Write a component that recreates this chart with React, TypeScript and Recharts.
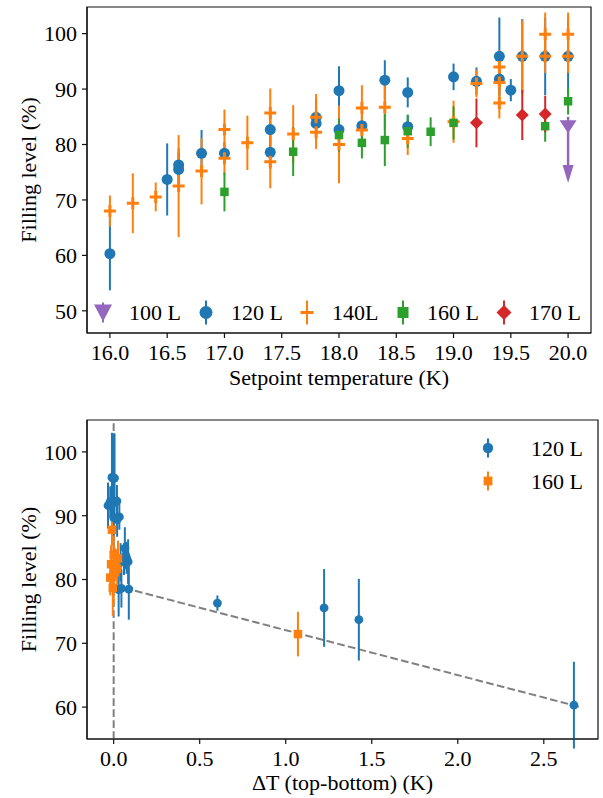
import React from 'react';
import { ScatterChart, Scatter, XAxis, YAxis, ErrorBar, ReferenceLine, ReferenceArea } from 'recharts';

const FONT = 'Liberation Serif';
const BLUE = '#1f77b4';
const ORANGE = '#ff7f0e';
const GREEN = '#2ca02c';
const RED = '#d62728';
const PURPLE = '#9467bd';
const GRAY = '#808080';

// ---------- Top chart: filling level vs setpoint temperature ----------
const tempTicks = [16.0, 16.5, 17.0, 17.5, 18.0, 18.5, 19.0, 19.5, 20.0];
const fillTicksTop = [50, 60, 70, 80, 90, 100];
const tempDomain = [15.8, 20.2];
const fillDomainTop = [46, 104.8];

const temp100 = [20.0];
const fill100 = [83.2];
const err100 = [[6.9, 1.8]];
const limit100 = [76.3];

const temp120 = [16.0, 16.5, 16.6, 16.6, 16.8, 17.0, 17.4, 17.4, 17.8, 17.8, 18.0, 18.0, 18.2, 18.4, 18.6, 18.6, 19.0, 19.2, 19.4, 19.4, 19.5, 19.6, 19.8, 20.0];
const fill120 = [60.3, 73.7, 76.3, 75.5, 78.4, 78.4, 82.7, 78.6, 84.9, 83.8, 89.7, 82.7, 83.4, 91.6, 89.4, 83.2, 92.2, 91.4, 95.9, 91.8, 89.8, 95.9, 95.9, 95.9];
const err120 = [6.6, 6.5, 3.0, 3.0, 4.2, 2.0, 3.0, 3.0, 3.3, 2.0, 4.4, 2.0, 2.0, 3.6, 2.7, 2.0, 2.4, 2.5, 7.0, 3.0, 2.0, 6.7, 7.0, 7.0];

const temp140 = [16.0, 16.2, 16.4, 16.6, 16.8, 17.0, 17.0, 17.2, 17.4, 17.4, 17.6, 17.8, 17.8, 18.0, 18.2, 18.2, 18.4, 18.6, 19.0, 19.2, 19.4, 19.4, 19.4, 19.6, 19.8, 19.8, 20.0, 20.0];
const fill140 = [68.0, 69.4, 70.55, 72.5, 75.2, 82.7, 77.5, 80.3, 85.7, 76.9, 81.9, 84.9, 82.2, 80.0, 86.6, 82.6, 86.7, 81.1, 84.1, 91.0, 94.0, 91.2, 87.5, 95.9, 99.9, 95.9, 99.9, 95.9];
const err140 = [2.8, 5.4, 2.6, 9.2, 6.0, 3.6, 3.0, 4.9, 4.4, 4.8, 5.2, 4.2, 3.0, 7.0, 4.1, 3.0, 4.0, 3.0, 3.8, 2.5, 3.0, 3.0, 2.8, 6.5, 3.9, 3.0, 3.9, 3.0];

const temp160 = [17.0, 17.6, 18.0, 18.2, 18.4, 18.6, 18.8, 19.0, 19.8, 20.0];
const fill160 = [71.45, 78.7, 81.7, 80.3, 80.8, 82.4, 82.3, 83.9, 83.3, 87.8];
const err160 = [3.5, 4.4, 3.0, 2.8, 4.7, 3.0, 2.6, 3.0, 2.8, 2.4];

const temp170 = [19.2, 19.6, 19.8];
const fill170 = [83.9, 85.3, 85.5];
const err170 = [4.4, 4.5, 3.3];

// ---------- Bottom chart: filling level vs temperature difference ----------
const dTTicks = [0.0, 0.5, 1.0, 1.5, 2.0, 2.5];
const fillTicksBottom = [60, 70, 80, 90, 100];
const dTDomain = [-0.155, 2.815];
const fillDomainBottom = [55, 105];

const dT120 = [2.675, 1.425, 0.603, 1.223, 0.029, 0.088, 0.045, 0.084, 0.075, 0.06, 0.07, 0.065, 0.04, 0.033, 0.0, 0.02, -0.033, -0.02, 0.019, -0.01, -0.01, -0.005, 0.0, 0.005];
const fillB120 = [60.3, 73.7, 76.3, 75.55, 78.4, 78.5, 78.6, 82.8, 83.4, 83.2, 83.8, 84.9, 82.7, 89.8, 89.7, 89.4, 91.6, 92.2, 92.3, 91.8, 96.0, 95.9, 95.9, 95.9];
const errB120 = [6.8, 6.4, 1.2, 6.1, 4.2, 4.8, 3.0, 3.5, 2.5, 2.5, 2.0, 3.3, 3.0, 2.0, 4.4, 2.7, 3.6, 2.4, 2.5, 3.0, 7.0, 6.7, 7.0, 7.0];

const dT160 = [1.071, -0.01, 0.0, 0.025, -0.015, 0.01, 0.02, 0.0, -0.02, -0.005];
const fillB160 = [71.45, 87.8, 83.9, 83.3, 82.4, 82.3, 81.7, 80.8, 80.3, 78.7];
const errB160 = [3.5, 2.4, 3.0, 2.8, 3.0, 2.6, 3.0, 4.7, 2.8, 4.4];

const fitX = [0.0, 2.72];
const fitY = [79.1, 59.95];

const zip = (xs: number[], ys: number[], es: any[]) => xs.map((x, i) => ({ x, y: ys[i], e: es[i] }));

// ---------- marker shapes ----------
const circleShape = (r: number, color: string) => (p: any) => <circle cx={p.cx} cy={p.cy} r={r} fill={color} />;
const plusShape = (h: number, w: number, color: string) => (p: any) => (
  <path d={`M${p.cx - h},${p.cy}H${p.cx + h}M${p.cx},${p.cy - h}V${p.cy + h}`} stroke={color} strokeWidth={w} fill="none" />
);
const squareShape = (s: number, color: string) => (p: any) => <rect x={p.cx - s / 2} y={p.cy - s / 2} width={s} height={s} fill={color} />;
const diamondShape = (d: number, color: string) => (p: any) => (
  <path d={`M${p.cx},${p.cy - d}L${p.cx + d},${p.cy}L${p.cx},${p.cy + d}L${p.cx - d},${p.cy}Z`} fill={color} />
);
const triDownShape = (w: number, h: number, color: string) => (p: any) => (
  <path d={`M${p.cx - w / 2},${p.cy - h / 2}L${p.cx + w / 2},${p.cy - h / 2}L${p.cx},${p.cy + h / 2}Z`} fill={color} />
);
const arrowHeadShape = (w: number, h: number, color: string) => (p: any) => (
  <path d={`M${p.cx - w / 2},${p.cy}L${p.cx + w / 2},${p.cy}L${p.cx},${p.cy + h}Z`} fill={color} />
);

const tickStyle = { fontSize: 22, fill: '#000', fontFamily: FONT };
const AXIS = '#111';

type IconKind = 'tri' | 'circle' | 'plus' | 'square' | 'diamond';
const LegendIcon = ({ kind, color, x, y, big }: { kind: IconKind; color: string; x: number; y: number; big: boolean }) => {
  const k = big ? 1 : 0.8;
  const bar = <line x1={x} x2={x} y1={y - 12 * k} y2={y + 12 * k} stroke={color} strokeWidth={2} />;
  if (kind === 'tri')
    return (
      <g>
        <line x1={x} x2={x} y1={y - 10} y2={y + 10} stroke={color} strokeWidth={2} />
        <path d={`M${x - 9},${y - 8}L${x + 9},${y - 8}L${x},${y + 9}Z`} fill={color} />
      </g>
    );
  if (kind === 'circle') return <g>{bar}<circle cx={x} cy={y} r={6.5 * k} fill={color} /></g>;
  if (kind === 'plus')
    return <g>{bar}<path d={`M${x - 6.5},${y}H${x + 6.5}`} stroke={color} strokeWidth={3} /></g>;
  if (kind === 'square') return <g>{bar}<rect x={x - 5.5 * k} y={y - 5.5 * k} width={11 * k} height={11 * k} fill={color} /></g>;
  return <g>{bar}<path d={`M${x},${y - 7.5}L${x + 7.5},${y}L${x},${y + 7.5}L${x - 7.5},${y}Z`} fill={color} /></g>;
};

const topLegend: { label: string; color: string; kind: IconKind }[] = [
  { label: '100 L', color: PURPLE, kind: 'tri' },
  { label: '120 L', color: BLUE, kind: 'circle' },
  { label: '140L', color: ORANGE, kind: 'plus' },
  { label: '160 L', color: GREEN, kind: 'square' },
  { label: '170 L', color: RED, kind: 'diamond' },
];
const bottomLegend: { label: string; color: string; kind: IconKind }[] = [
  { label: '120 L', color: BLUE, kind: 'circle' },
  { label: '160 L', color: ORANGE, kind: 'square' },
];

const TOP_ICON_X = [103, 206, 307, 403, 504];
const TOP_TEXT_X = [129, 231, 332, 427, 529];

export default function App() {
  const d100 = zip(temp100, fill100, err100);
  const l100 = temp100.map((x, i) => ({ x, y: limit100[i] }));
  const d120 = zip(temp120, fill120, err120);
  const d140 = zip(temp140, fill140, err140);
  const d160 = zip(temp160, fill160, err160);
  const d170 = zip(temp170, fill170, err170);
  const b120 = zip(dT120, fillB120, errB120);
  const b160 = zip(dT160, fillB160, errB160);
  const fitSeg = fitX.map((x, i) => ({ x, y: fitY[i] }));

  return (
    <div style={{ position: 'absolute', left: 0, top: 0, width: 603, height: 798, background: '#fff', fontFamily: FONT }}>
      <div style={{ position: 'absolute', left: 0, top: 0 }}>
        <ScatterChart width={603} height={400} margin={{ top: 7, right: 12, bottom: 0, left: 0 }}>
          <XAxis
            type="number"
            dataKey="x"
            domain={tempDomain}
            ticks={tempTicks}
            interval={0}
            allowDataOverflow
            height={67}
            tickSize={5}
            tickMargin={6}
            tick={tickStyle}
            tickFormatter={(v: number) => v.toFixed(1)}
            axisLine={{ stroke: AXIS, strokeWidth: 1.2 }}
            tickLine={{ stroke: AXIS, strokeWidth: 1.2 }}
            label={{ value: 'Setpoint temperature (K)', position: 'insideBottom', offset: 15, fontSize: 22, fill: '#000', fontFamily: FONT }}
          />
          <YAxis
            type="number"
            dataKey="y"
            domain={fillDomainTop}
            ticks={fillTicksTop}
            interval={0}
            allowDataOverflow
            width={87}
            tickSize={5}
            tickMargin={5}
            tick={tickStyle}
            axisLine={{ stroke: AXIS, strokeWidth: 1.2 }}
            tickLine={{ stroke: AXIS, strokeWidth: 1.2 }}
            label={{ value: 'Filling level (%)', angle: -90, position: 'insideLeft', offset: 28, fontSize: 22, fill: '#000', fontFamily: FONT, style: { textAnchor: 'middle' } }}
          />
          <ReferenceArea x1={tempDomain[0]} x2={tempDomain[1]} y1={fillDomainTop[0]} y2={fillDomainTop[1]} fill="none" stroke={AXIS} strokeWidth={1.2} ifOverflow="visible" />
          <Scatter data={d100} isAnimationActive={false} shape={triDownShape(17, 13, PURPLE)}>
            <ErrorBar dataKey="e" direction="y" width={0} stroke={PURPLE} strokeWidth={2.5} />
          </Scatter>
          <Scatter data={l100} isAnimationActive={false} shape={arrowHeadShape(11, 18, PURPLE)} />
          <Scatter data={d120} isAnimationActive={false} shape={circleShape(5.5, BLUE)}>
            <ErrorBar dataKey="e" direction="y" width={0} stroke={BLUE} strokeWidth={2} />
          </Scatter>
          <Scatter data={d140} isAnimationActive={false} shape={plusShape(6, 3, ORANGE)}>
            <ErrorBar dataKey="e" direction="y" width={0} stroke={ORANGE} strokeWidth={2} />
          </Scatter>
          <Scatter data={d160} isAnimationActive={false} shape={squareShape(8.5, GREEN)}>
            <ErrorBar dataKey="e" direction="y" width={0} stroke={GREEN} strokeWidth={2} />
          </Scatter>
          <Scatter data={d170} isAnimationActive={false} shape={diamondShape(6.5, RED)}>
            <ErrorBar dataKey="e" direction="y" width={0} stroke={RED} strokeWidth={2} />
          </Scatter>
        </ScatterChart>
      </div>
      <svg style={{ position: 'absolute', left: 0, top: 0 }} width={603} height={400}>
        {topLegend.map((it, i) => (
          <g key={it.label}>
            <LegendIcon kind={it.kind} color={it.color} x={TOP_ICON_X[i]} y={312.5} big />
            <text x={TOP_TEXT_X[i]} y={320} fontSize={22} fontFamily={FONT} fill="#000">{it.label}</text>
          </g>
        ))}
      </svg>

      <div style={{ position: 'absolute', left: 0, top: 400 }}>
        <ScatterChart width={603} height={398} margin={{ top: 20, right: 5, bottom: 0, left: 0 }}>
          <XAxis
            type="number"
            dataKey="x"
            domain={dTDomain}
            ticks={dTTicks}
            interval={0}
            allowDataOverflow
            height={59}
            tickSize={5}
            tickMargin={6}
            tick={tickStyle}
            tickFormatter={(v: number) => v.toFixed(1)}
            axisLine={{ stroke: AXIS, strokeWidth: 1.2 }}
            tickLine={{ stroke: AXIS, strokeWidth: 1.2 }}
            label={{ value: 'ΔT (top-bottom) (K)', position: 'insideBottom', offset: 8, fontSize: 22, fill: '#000', fontFamily: FONT }}
          />
          <YAxis
            type="number"
            dataKey="y"
            domain={fillDomainBottom}
            ticks={fillTicksBottom}
            interval={0}
            allowDataOverflow
            width={87}
            tickSize={5}
            tickMargin={5}
            tick={tickStyle}
            axisLine={{ stroke: AXIS, strokeWidth: 1.2 }}
            tickLine={{ stroke: AXIS, strokeWidth: 1.2 }}
            label={{ value: 'Filling level (%)', angle: -90, position: 'insideLeft', offset: 28, fontSize: 22, fill: '#000', fontFamily: FONT, style: { textAnchor: 'middle' } }}
          />
          <ReferenceArea x1={dTDomain[0]} x2={dTDomain[1]} y1={fillDomainBottom[0]} y2={fillDomainBottom[1]} fill="none" stroke={AXIS} strokeWidth={1.2} ifOverflow="visible" />
          <ReferenceLine x={0} stroke={GRAY} strokeWidth={2} strokeDasharray="7.7 3.3" />
          <ReferenceLine segment={fitSeg} stroke={GRAY} strokeWidth={2} strokeDasharray="7.7 3.3" />
          <Scatter data={b120} isAnimationActive={false} shape={circleShape(4.4, BLUE)}>
            <ErrorBar dataKey="e" direction="y" width={0} stroke={BLUE} strokeWidth={2} />
          </Scatter>
          <Scatter data={b160} isAnimationActive={false} shape={squareShape(8.5, ORANGE)}>
            <ErrorBar dataKey="e" direction="y" width={0} stroke={ORANGE} strokeWidth={2} />
          </Scatter>
        </ScatterChart>
      </div>
      <svg style={{ position: 'absolute', left: 0, top: 0 }} width={603} height={798}>
        {bottomLegend.map((it, i) => (
          <g key={it.label}>
            <LegendIcon kind={it.kind} color={it.color} x={488} y={448 + i * 33} big={false} />
            <text x={531} y={456 + i * 33} fontSize={22} fontFamily={FONT} fill="#000">{it.label}</text>
          </g>
        ))}
      </svg>
    </div>
  );
}
